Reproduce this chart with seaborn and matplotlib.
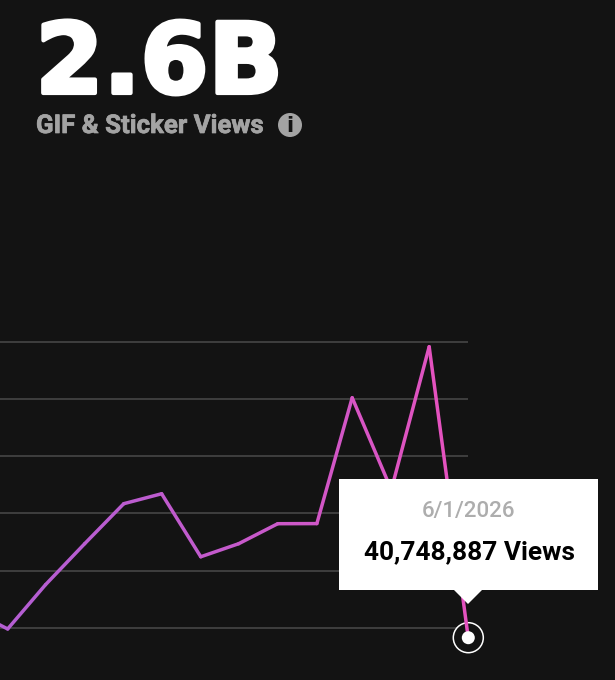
import numpy as np
import pandas as pd
import seaborn as sns
import matplotlib
matplotlib.use("Agg")
import matplotlib.pyplot as plt
import matplotlib.dates as mdates
from matplotlib.colors import to_rgb
from matplotlib.patches import Rectangle, Polygon, Circle
import matplotlib.patheffects as pe

# ---- data (monthly views, millions) ----
dates = ["2025-05-01", "2025-06-01", "2025-07-01", "2025-08-01", "2025-09-01",
         "2025-10-01", "2025-11-01", "2025-12-01", "2026-01-01", "2026-02-01",
         "2026-03-01", "2026-04-01", "2026-05-01", "2026-06-01"]
views_m = [66.6, 48.9, 87.6, 123.4, 158.4, 167.1, 112.0, 123.4, 140.9, 141.0,
           251.0, 170.6, 295.6, 40.748887]
grid_values = [50, 100, 150, 200, 250, 300]
headline = "2.6B"
subtitle = "GIF & Sticker Views"
tip_date = "6/1/2026"
tip_value = "40,748,887 Views"

BG = "#131313"
COL_LEFT = "#b45ed2"
COL_RIGHT = "#e452bf"

sns.set_theme(style="dark", rc={"axes.facecolor": BG, "figure.facecolor": BG})
W, H = 615, 680
fig = plt.figure(figsize=(W / 100, H / 100), dpi=100)
ax = fig.add_axes([0, 0, 1, 1])

d = pd.to_datetime(dates)
n = len(d)
c0, c1 = np.array(to_rgb(COL_LEFT)), np.array(to_rgb(COL_RIGHT))
rows, palette = [], {}
for i in range(n - 1):
    t = ((i / (n - 2)) ** 1.6)
    palette[i] = tuple(c0 + (c1 - c0) * t)
    rows.append({"date": d[i], "views": views_m[i], "seg": i})
    rows.append({"date": d[i + 1], "views": views_m[i + 1], "seg": i})
df = pd.DataFrame(rows)

ax.hlines(grid_values, d[0], d[-1], color="#4b4b4b", lw=1.1, zorder=1)
sns.lineplot(data=df, x="date", y="views", hue="seg", palette=palette, lw=2.5,
             legend=False, ax=ax, zorder=2, estimator=None, sort=False,
             solid_capstyle="round", solid_joinstyle="round")

# scale: px per day, 57.2 px per 50M
PX_DAY = 1.262
end = mdates.date2num(d[-1])
ax.set_xlim(end - 468.3 / PX_DAY, end + (W - 468.3) / PX_DAY)
m_per_px = 50 / 57.2
ax.set_ylim(50 - (H - 627.7) * m_per_px, 50 + 627.7 * m_per_px)
ax.set_axis_off()
fig.patch.set_facecolor(BG)

# overlay in pixel coordinates for chrome
ov = fig.add_axes([0, 0, 1, 1], facecolor="none")
ov.set_xlim(0, W)
ov.set_ylim(H, 0)
ov.set_axis_off()

ov.text(35.5, 93, headline, color="white", fontsize=70.3, fontweight="bold",
        family="DejaVu Sans", ha="left", va="baseline",
        path_effects=[pe.withStroke(linewidth=3, foreground="white")])
ov.text(36, 133, subtitle, color="#a3a3a3", fontsize=18.6, fontweight="bold",
        family="Roboto", ha="left", va="baseline",
        path_effects=[pe.withStroke(linewidth=0.5, foreground="#a3a3a3")])
ov.add_patch(Circle((290, 125), 12, color="#a3a3a3", lw=0))
ov.text(290, 125.5, "i", color=BG, fontsize=15, fontweight="bold",
        family="DejaVu Sans", ha="center", va="center")

# end marker: ring behind the line (same pixel frame), dot above it
ax.add_patch(Circle((468.3, 637.7), 15, facecolor=BG, edgecolor="white", lw=1.1,
                    zorder=1.5, transform=ov.transData))
ov.add_patch(Circle((468.3, 637.7), 6.5, color="white", lw=0, zorder=6))

# tooltip
ov.add_patch(Rectangle((339, 479), 259, 111, color="white", lw=0, zorder=7))
ov.add_patch(Polygon([(453, 589), (483, 589), (468, 604)], color="white", lw=0, zorder=7))
ov.text(468.5, 512, tip_date, color="#adadad", fontsize=16, fontweight="medium",
        family="Roboto", ha="center", va="center", zorder=8)
ov.text(469, 552, tip_value, color="black", fontsize=18.9, fontweight="bold",
        family="Roboto", ha="center", va="center", zorder=8)

fig.savefig("out.png", dpi=100, facecolor=BG)
